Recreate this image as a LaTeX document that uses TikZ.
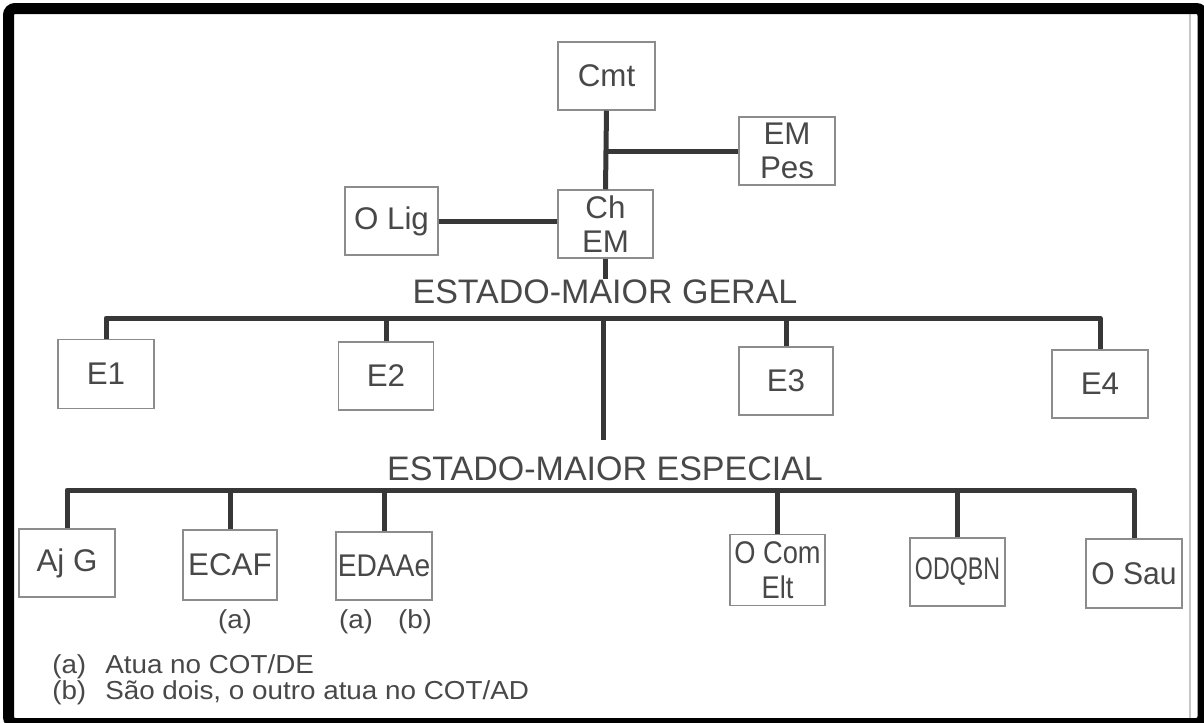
\documentclass[tikz,border=0pt]{standalone}
\usepackage{fontspec}
\setmainfont{Liberation Sans}
\definecolor{txtc}{RGB}{72,72,72}
\definecolor{boxc}{RGB}{140,140,140}
\definecolor{linec}{RGB}{55,55,55}
\newcommand\wide[1]{\scalebox{1.07}[1]{#1}}
\begin{document}
\begin{tikzpicture}[x=0.75pt,y=-0.75pt,
  sz/.style 2 args={minimum width=#1*0.75pt, minimum height=#2*0.75pt},
  bx/.style={draw=boxc, line width=1.1pt, inner sep=0pt, text=txtc,
    font=\fontsize{23.5}{26}\selectfont, align=center},
  conn/.style={draw=linec, line width=3.75pt, line join=round},
  lbl/.style={text=txtc, font=\fontsize{25.5}{28}\selectfont, inner sep=0pt},
  note/.style={text=txtc, font=\fontsize{19.5}{22}\selectfont, inner sep=0pt}]
\useasboundingbox (0,0) rectangle (1204,722);
\fill[white] (0,0) rectangle (1204,722);
\draw[gray!45, line width=1.5pt] (1190,14) -- (1190,718);
\draw[black, line width=8.25pt, rounded corners=5pt] (8.5,8.5) rectangle (1203,723.5);
% boxes
\node[bx, sz={97}{68}] (cmt) at (606.5,76) {Cmt};
\node[bx, sz={96}{68}] (empes) at (787,151) {EM\\Pes};
\node[bx, sz={95}{68}] (chem) at (605.5,224) {Ch\\EM};
\node[bx, sz={93}{68}] (olig) at (391.5,221) {O Lig};
\node[bx, sz={96}{69}] (e1) at (106,374) {E1};
\node[bx, sz={95}{68}] (e2) at (386,376) {E2};
\node[bx, sz={94}{68}] (e3) at (786,381) {E3};
\node[bx, sz={96}{68}] (e4) at (1100,384) {E4};
\node[bx, sz={96}{68}] (ajg) at (67,563) {Aj G};
\node[bx, sz={94}{70}] (ecaf) at (230,565) {ECAF};
\node[bx, sz={96}{68}] (edaae) at (384,566) {\scalebox{0.9}[1]{EDAAe}};
\node[bx, sz={95}{71}] (ocom) at (777.5,570) {\scalebox{0.87}[1]{O Com}\\\scalebox{0.87}[1]{Elt}};
\node[bx, sz={95}{68}] (odqbn) at (957.5,572) {\scalebox{0.74}[1]{ODQBN}};
\node[bx, sz={96}{69}] (osau) at (1134,573.5) {\scalebox{0.96}[1]{O Sau}};
% labels
\node[lbl, anchor=base] (emg) at (605,303) {ESTADO-MAIOR GERAL};
\node[lbl, anchor=base] (eme) at (605,480) {ESTADO-MAIOR ESPECIAL};
% top connectors
\draw[conn] (cmt.south) -- (chem.north);
\draw[conn] (empes.west) -- (empes.west -| cmt.south);
\draw[conn] (olig.east) -- (olig.east -| chem.west);
\draw[conn] (chem.south) -- (chem.south |- emg.north);
% general staff
\coordinate (gbus) at (603,318);
\coordinate (gend) at (603,440);
\draw[conn] (e1.north) |- (gbus) -| (e4.north);
\draw[conn] (e2.north) -- (e2.north |- gbus);
\draw[conn] (e3.north) -- (e3.north |- gbus);
\draw[conn] (gbus) -- (gend);
% special staff
\coordinate (ebus) at (604,490);
\draw[conn] (ajg.north) |- (ebus) -| (osau.north);
\draw[conn] (ecaf.north) -- (ecaf.north |- ebus);
\draw[conn] (edaae.north) -- (edaae.north |- ebus);
\draw[conn] (ocom.north) -- (ocom.north |- ebus);
\draw[conn] (odqbn.north) -- (odqbn.north |- ebus);
% notes
\node[note, anchor=base] (ca) at (235,628) {\wide{(a)}};
\node[note, anchor=base] (da) at (356,628) {\wide{(a)}};
\node[note, anchor=base] (db) at (415,628) {\wide{(b)}};
\node[note, anchor=base west] (fa) at (52,673) {\wide{(a)}};
\node[note, anchor=base west] (fat) at (105,673) {\wide{Atua no COT/DE}};
\node[note, anchor=base west] (fb) at (52,699) {\wide{(b)}};
\node[note, anchor=base west] (fbt) at (105,699) {\wide{São dois, o outro atua no COT/AD}};
\end{tikzpicture}
\end{document}
